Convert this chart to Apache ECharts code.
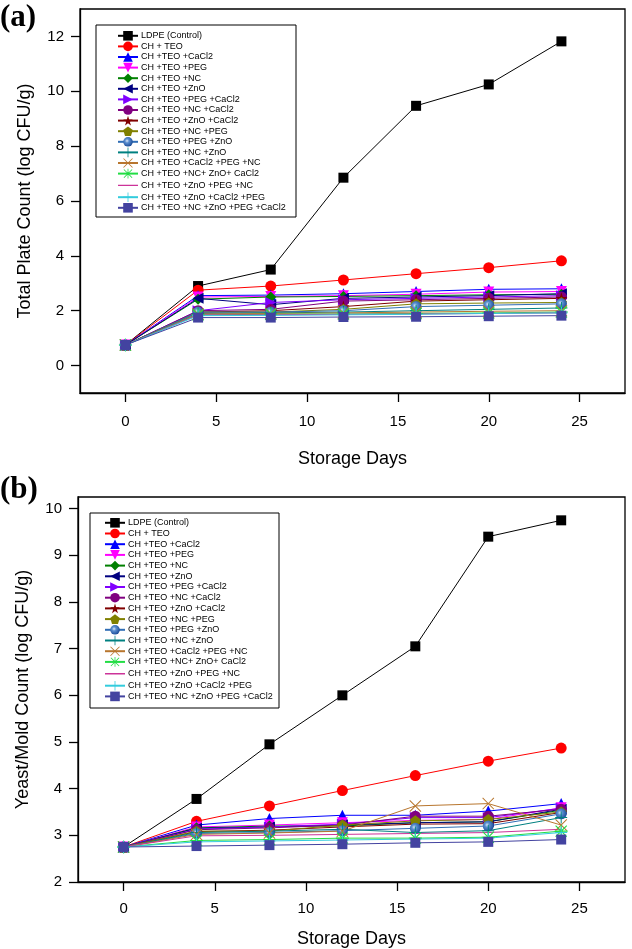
<!DOCTYPE html>
<html>
<head>
<meta charset="utf-8">
<script src="https://cdn.jsdelivr.net/npm/echarts@6/dist/echarts.min.js"></script>
<style>
html,body{margin:0;padding:0;background:#fff;}
#c{width:632px;height:949px;}
</style>
</head>
<body>
<div id="c"></div>
<script>
const days = [0, 4, 8, 12, 16, 20, 24];
const xTicks = [0, 5, 10, 15, 20, 25];
const yTicksA = [0, 2, 4, 6, 8, 10, 12];
const yTicksB = [2, 3, 4, 5, 6, 7, 8, 9, 10];

const seriesNames = [
  'LDPE (Control)', 'CH + TEO', 'CH +TEO +CaCl2', 'CH +TEO +PEG', 'CH +TEO +NC',
  'CH +TEO +ZnO', 'CH +TEO +PEG +CaCl2', 'CH +TEO +NC +CaCl2', 'CH +TEO +ZnO +CaCl2',
  'CH +TEO +NC +PEG', 'CH +TEO +PEG +ZnO', 'CH +TEO +NC +ZnO', 'CH +TEO +CaCl2 +PEG +NC',
  'CH +TEO +NC+ ZnO+ CaCl2', 'CH +TEO +ZnO +PEG +NC', 'CH +TEO +ZnO +CaCl2 +PEG',
  'CH +TEO +NC +ZnO +PEG +CaCl2'
];

// Panel (a): Total Plate Count (log CFU/g)
const ldpeA        = [0.75, 2.90, 3.50, 6.85, 9.47, 10.25, 11.82];
const chTeoA       = [0.75, 2.75, 2.90, 3.12, 3.35, 3.57, 3.82];
const cacl2A       = [0.75, 2.55, 2.57, 2.62, 2.70, 2.78, 2.80];
const pegA         = [0.75, 2.50, 2.52, 2.55, 2.60, 2.68, 2.70];
const ncA          = [0.75, 2.42, 2.50, 2.52, 2.55, 2.58, 2.60];
const znoA         = [0.75, 2.45, 2.22, 2.45, 2.50, 2.55, 2.62];
const pegCacl2A    = [0.75, 2.00, 2.30, 2.40, 2.45, 2.50, 2.55];
const ncCacl2A     = [0.75, 2.00, 2.05, 2.35, 2.40, 2.45, 2.50];
const znoCacl2A    = [0.75, 1.95, 2.00, 2.15, 2.35, 2.40, 2.45];
const ncPegA       = [0.75, 1.95, 1.95, 2.05, 2.25, 2.28, 2.30];
const pegZnoA      = [0.75, 1.95, 1.95, 2.00, 2.15, 2.20, 2.25];
const ncZnoA       = [0.75, 1.90, 1.92, 1.95, 2.00, 2.05, 2.10];
const cacl2PegNcA  = [0.75, 1.88, 1.90, 1.92, 1.95, 1.98, 2.00];
const ncZnoCacl2A  = [0.75, 1.85, 1.87, 1.88, 1.90, 1.92, 1.95];
const znoPegNcA    = [0.75, 1.85, 1.85, 1.87, 1.88, 1.90, 1.92];
const znoCacl2PegA = [0.75, 1.82, 1.83, 1.85, 1.87, 1.90, 1.92];
const allFourA     = [0.75, 1.75, 1.75, 1.77, 1.78, 1.80, 1.82];

// Panel (b): Yeast/Mold Count (log CFU/g)
const ldpeB        = [2.75, 3.78, 4.95, 6.00, 7.05, 9.40, 9.75];
const chTeoB       = [2.75, 3.30, 3.63, 3.96, 4.28, 4.59, 4.87];
const cacl2B       = [2.75, 3.22, 3.36, 3.43, 3.43, 3.52, 3.68];
const pegB         = [2.75, 3.18, 3.22, 3.27, 3.32, 3.34, 3.59];
const ncB          = [2.75, 3.16, 3.20, 3.20, 3.27, 3.29, 3.54];
const znoB         = [2.75, 3.15, 3.18, 3.22, 3.27, 3.29, 3.56];
const pegCacl2B    = [2.75, 3.13, 3.18, 3.24, 3.38, 3.38, 3.58];
const ncCacl2B     = [2.75, 3.12, 3.16, 3.22, 3.41, 3.41, 3.56];
const znoCacl2B    = [2.75, 3.08, 3.11, 3.18, 3.24, 3.25, 3.49];
const ncPegB       = [2.75, 3.09, 3.09, 3.22, 3.31, 3.34, 3.50];
const pegZnoB      = [2.75, 3.04, 3.06, 3.10, 3.15, 3.20, 3.46];
const ncZnoB       = [2.75, 3.06, 3.09, 3.13, 3.06, 3.10, 3.38];
const cacl2PegNcB  = [2.75, 3.02, 3.05, 3.09, 3.63, 3.68, 3.22];
const ncZnoCacl2B  = [2.75, 2.89, 2.91, 2.94, 2.94, 2.96, 3.09];
const znoPegNcB    = [2.75, 2.99, 3.00, 3.02, 3.04, 3.06, 3.13];
const znoCacl2PegB = [2.75, 2.86, 2.88, 2.90, 2.92, 2.94, 3.06];
const allFourB     = [2.75, 2.77, 2.79, 2.81, 2.84, 2.86, 2.91];

const valuesA = [ldpeA, chTeoA, cacl2A, pegA, ncA, znoA, pegCacl2A, ncCacl2A, znoCacl2A,
  ncPegA, pegZnoA, ncZnoA, cacl2PegNcA, ncZnoCacl2A, znoPegNcA, znoCacl2PegA, allFourA];
const valuesB = [ldpeB, chTeoB, cacl2B, pegB, ncB, znoB, pegCacl2B, ncCacl2B, znoCacl2B,
  ncPegB, pegZnoB, ncZnoB, cacl2PegNcB, ncZnoCacl2B, znoPegNcB, znoCacl2PegB, allFourB];

// styles
const colors = ['#000000', '#ff0000', '#0000ff', '#ff00ff', '#008000', '#000080', '#8000ff',
  '#800080', '#800000', '#808000', '#2f6db5', '#008080', '#b8762e', '#22dd44', '#cc3399',
  '#33ccdd', '#4343a0'];
const P_DOWN = 'path://M0,0L10,0L5,9Z';
const P_LEFT = 'path://M9,0L9,10L0,5Z';
const P_RIGHT = 'path://M0,0L9,5L0,10Z';
const P_STAR = 'path://M5,0L6.2,3.6L10,3.6L6.9,5.9L8.1,9.5L5,7.3L1.9,9.5L3.1,5.9L0,3.6L3.8,3.6Z';
const P_PENT = 'path://M5,0L10,3.6L8.1,9.5L1.9,9.5L0,3.6Z';
const P_PLUS = 'path://M4.6,0H5.4V4.6H10V5.4H5.4V10H4.6V5.4H0V4.6H4.6Z';
const P_X = 'path://M0.6,0L5,4.4L9.4,0L10,0.6L5.6,5L10,9.4L9.4,10L5,5.6L0.6,10L0,9.4L4.4,5L0,0.6Z';
const P_AST = 'path://M4.6,0H5.4V4.6H10V5.4H5.4V10H4.6V5.4H0V4.6H4.6Z M1,0.4L5,4.4L9,0.4L9.6,1L5.6,5L9.6,9L9,9.6L5,5.6L1,9.6L0.4,9L4.4,5L0.4,1Z';
const P_LINE_ICON = 'path://M0,0h0.01v0.01h-0.01Z M0,5.3H20V6.7H0Z M19.99,11.99h0.01v0.01h-0.01Z';
const symbols = ['rect', 'circle', 'triangle', P_DOWN, 'diamond', P_LEFT, P_RIGHT, 'circle',
  P_STAR, P_PENT, 'circle', P_PLUS, P_X, P_AST, 'none', P_PLUS, 'rect'];
const sizes = [10, 11, 11, 11, 11, 11, 11, 11, 12, 11, 11, 12, 12, 13, 0, 12, 10];

function buildSeries(values, idx) {
  return values.map((vals, i) => ({
    name: seriesNames[i],
    type: 'line',
    xAxisIndex: idx,
    yAxisIndex: idx,
    data: days.map((d, k) => [d, vals[k]]),
    symbol: symbols[i],
    symbolSize: sizes[i],
    showSymbol: symbols[i] !== 'none',
    lineStyle: { color: colors[i], width: 1 },
    itemStyle: i === 10 ? {
      color: { type: 'radial', x: 0.4, y: 0.4, r: 0.6,
        colorStops: [{ offset: 0, color: '#dde8f8' }, { offset: 0.35, color: '#5b8fd0' }, { offset: 1, color: '#1f4f9a' }] }
    } : { color: colors[i] },
    emphasis: { disabled: true },
    animation: false,
    z: 2
  }));
}

const FONT = 'Liberation Sans, Arial, sans-serif';
function xAxis(gi, labelMargin, nameGap) {
  return {
    gridIndex: gi, type: 'value', min: -2.5, max: 27.5,
    name: 'Storage Days', nameLocation: 'middle', nameGap: nameGap,
    nameTextStyle: { fontSize: 18, color: '#000', fontFamily: FONT },
    axisLine: { show: true, onZero: false, lineStyle: { color: '#000', width: 1.3 } },
    axisTick: { show: true, length: 9, customValues: xTicks, lineStyle: { color: '#000', width: 1.3 } },
    axisLabel: { customValues: xTicks, margin: labelMargin, fontSize: 15, color: '#000', fontFamily: FONT },
    splitLine: { show: false }
  };
}
function yAxis(gi, min, max, ticks, name) {
  return {
    gridIndex: gi, type: 'value', min: min, max: max,
    name: name, nameLocation: 'middle', nameGap: 46,
    nameTextStyle: { fontSize: 18, color: '#000', fontFamily: FONT },
    axisLine: { show: true, onZero: false, lineStyle: { color: '#000', width: 1.3 } },
    axisTick: { show: true, length: 9, customValues: ticks, lineStyle: { color: '#000', width: 1.3 } },
    axisLabel: { customValues: ticks, margin: 16, fontSize: 15, color: '#000', fontFamily: FONT },
    splitLine: { show: false }
  };
}
function legend(left, top, gap) {
  return {
    orient: 'vertical', left: left, top: top, padding: 0,
    itemWidth: 20, itemHeight: 12, itemGap: gap,
    data: seriesNames.map((n, i) => symbols[i] === 'none'
      ? { name: n, icon: P_LINE_ICON, itemStyle: { color: colors[i], borderWidth: 0 } } : n),
    textStyle: { fontSize: 9, color: '#000', fontFamily: FONT, padding: [0, 0, 0, -2] },
    selectedMode: false,
    z: 10
  };
}

const chart = echarts.init(document.getElementById('c'), null, { renderer: 'canvas' });
chart.setOption({
  animation: false,
  backgroundColor: '#fff',
  grid: [
    { left: 80, top: 9, width: 545, height: 384, show: true, borderColor: '#000', borderWidth: 1.3, backgroundColor: 'transparent' },
    { left: 78, top: 497, width: 547, height: 385, show: true, borderColor: '#000', borderWidth: 1.3, backgroundColor: 'transparent' }
  ],
  xAxis: [xAxis(0, 21, 57), xAxis(1, 19, 48)],
  yAxis: [
    yAxis(0, -1, 13, yTicksA, 'Total Plate Count (log CFU/g)'),
    yAxis(1, 2, 10.25, yTicksB, 'Yeast/Mold Count (log CFU/g)')
  ],
  legend: [legend(117, 31, 1.0), legend(104, 518, 1.1)],
  graphic: [
    { type: 'rect', shape: { x: 96, y: 25, width: 200, height: 192 }, style: { fill: '#fff', stroke: '#000', lineWidth: 1 }, z: 5, silent: true },
    { type: 'rect', shape: { x: 90, y: 513, width: 189, height: 195 }, style: { fill: '#fff', stroke: '#000', lineWidth: 1 }, z: 5, silent: true },
    { type: 'text', left: 0, top: 2, style: { text: '(a)', font: 'bold 31px "Liberation Serif", "Times New Roman", serif', fill: '#000' }, z: 60 },
    { type: 'text', left: 0, top: 474, style: { text: '(b)', font: 'bold 31px "Liberation Serif", "Times New Roman", serif', fill: '#000' }, z: 60 }
  ],
  series: buildSeries(valuesA, 0).concat(buildSeries(valuesB, 1))
});
</script>
</body>
</html>
